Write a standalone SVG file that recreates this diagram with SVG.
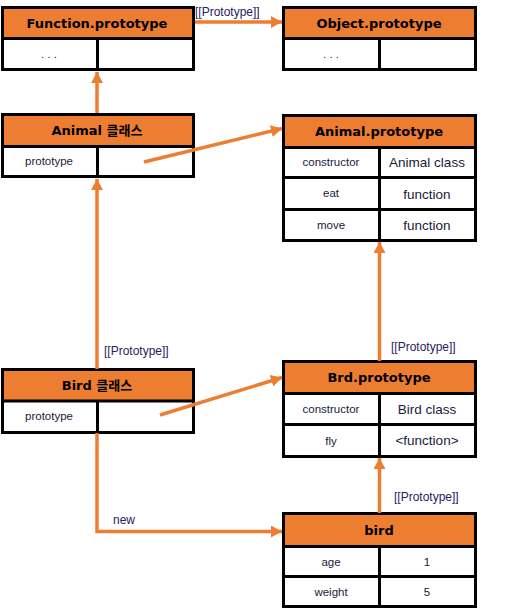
<svg xmlns="http://www.w3.org/2000/svg" width="511" height="609" viewBox="0 0 511 609">
<style>
.box{fill:#fff;stroke:#000;stroke-width:3}
.hd{fill:#ED7D31}
.ln{stroke:#000;stroke-width:3}
.ht{font-family:"DejaVu Sans","Noto Sans CJK KR",sans-serif;font-weight:bold;font-size:13px;fill:#000;text-anchor:middle}
.ct{font-family:"Liberation Sans","Noto Sans CJK KR",sans-serif;font-size:11.5px;fill:#1a1a3a;text-anchor:middle}
.vt{font-family:"Liberation Sans","Noto Sans CJK KR",sans-serif;font-size:13.5px;fill:#1a1a3a;text-anchor:middle}
.lb{font-family:"Liberation Sans",sans-serif;font-size:12px;fill:#2a2060}
.cn{stroke:#ED7D31;stroke-width:3.5;fill:none}
</style>
<defs>
<marker id="ah" markerUnits="userSpaceOnUse" markerWidth="12" markerHeight="12" refX="11" refY="6" orient="auto">
<path d="M0,0 L11,6 L0,12 z" fill="#ED7D31"/>
</marker>
</defs>
<rect width="511" height="609" fill="#fff"/>

<g id="function-prototype">
<rect class="box" x="2.5" y="7.5" width="191" height="62"/>
<rect class="hd" x="4" y="9" width="188" height="28"/>
<line class="ln" x1="2.5" y1="38.5" x2="193.5" y2="38.5"/>
<line class="ln" x1="97.5" y1="38.5" x2="97.5" y2="69.5"/>
<text class="ht" x="97" y="27.5">Function.prototype</text>
<text class="ct" x="49" y="58">. . .</text>
</g>

<g id="object-prototype">
<rect class="box" x="283.5" y="7.5" width="192" height="62"/>
<rect class="hd" x="285" y="9" width="189" height="28"/>
<line class="ln" x1="283.5" y1="38.5" x2="475.5" y2="38.5"/>
<line class="ln" x1="379.5" y1="38.5" x2="379.5" y2="69.5"/>
<text class="ht" x="379" y="27.5">Object.prototype</text>
<text class="ct" x="331" y="58">. . .</text>
</g>

<g id="animal-class">
<rect class="box" x="2.5" y="114.5" width="191" height="62"/>
<rect class="hd" x="4" y="116" width="188" height="29"/>
<line class="ln" x1="2.5" y1="146.5" x2="193.5" y2="146.5"/>
<line class="ln" x1="97.5" y1="146.5" x2="97.5" y2="176.5"/>
<text class="ht" x="97" y="135">Animal 클래스</text>
<text class="ct" x="49" y="165">prototype</text>
</g>

<g id="animal-prototype">
<rect class="box" x="283.5" y="115.5" width="192" height="125"/>
<rect class="hd" x="285" y="117" width="189" height="29"/>
<line class="ln" x1="283.5" y1="147.5" x2="475.5" y2="147.5"/>
<line class="ln" x1="283.5" y1="177.5" x2="475.5" y2="177.5"/>
<line class="ln" x1="283.5" y1="209.5" x2="475.5" y2="209.5"/>
<line class="ln" x1="379.5" y1="147.5" x2="379.5" y2="240.5"/>
<text class="ht" x="379" y="136">Animal.prototype</text>
<text class="ct" x="331" y="166">constructor</text>
<text class="vt" x="427" y="167">Animal class</text>
<text class="ct" x="331" y="197">eat</text>
<text class="vt" x="427" y="198.5">function</text>
<text class="ct" x="331" y="228.5">move</text>
<text class="vt" x="427" y="229.5">function</text>
</g>

<g id="bird-class">
<rect class="box" x="2.5" y="369.5" width="191" height="63"/>
<rect class="hd" x="4" y="371" width="188" height="29"/>
<line class="ln" x1="2.5" y1="401" x2="193.5" y2="401"/>
<line class="ln" x1="97.5" y1="401" x2="97.5" y2="432.5"/>
<text class="ht" x="97" y="390">Bird 클래스</text>
<text class="ct" x="49" y="420">prototype</text>
</g>

<g id="bird-prototype">
<rect class="box" x="283.5" y="361.5" width="192" height="95"/>
<rect class="hd" x="285" y="363" width="189" height="29"/>
<line class="ln" x1="283.5" y1="393.5" x2="475.5" y2="393.5"/>
<line class="ln" x1="283.5" y1="424.5" x2="475.5" y2="424.5"/>
<line class="ln" x1="379.5" y1="393.5" x2="379.5" y2="456.5"/>
<text class="ht" x="379" y="382">Brd.prototype</text>
<text class="ct" x="331" y="413">constructor</text>
<text class="vt" x="427" y="414">Bird class</text>
<text class="ct" x="331" y="444.5">fly</text>
<text class="vt" x="427" y="445">&lt;function&gt;</text>
</g>

<g id="bird">
<rect class="box" x="283.5" y="513.5" width="192" height="93"/>
<rect class="hd" x="285" y="515" width="189" height="30"/>
<line class="ln" x1="283.5" y1="546.5" x2="475.5" y2="546.5"/>
<line class="ln" x1="283.5" y1="576.5" x2="475.5" y2="576.5"/>
<line class="ln" x1="379.5" y1="546.5" x2="379.5" y2="606.5"/>
<text class="ht" x="379" y="535">bird</text>
<text class="ct" x="331" y="565.5">age</text>
<text class="ct" x="427" y="565.5">1</text>
<text class="ct" x="331" y="596">weight</text>
<text class="ct" x="427" y="596">5</text>
</g>

<g id="connectors">
<line class="cn" x1="195" y1="22" x2="282" y2="22" marker-end="url(#ah)"/>
<line class="cn" x1="97" y1="113" x2="97" y2="72" marker-end="url(#ah)"/>
<line class="cn" x1="144" y1="162" x2="282" y2="128.5" marker-end="url(#ah)"/>
<line class="cn" x1="97" y1="369" x2="97" y2="179" marker-end="url(#ah)"/>
<line class="cn" x1="160" y1="415" x2="282" y2="377.5" marker-end="url(#ah)"/>
<line class="cn" x1="379.5" y1="361" x2="379.5" y2="242" marker-end="url(#ah)"/>
<line class="cn" x1="379.5" y1="513" x2="379.5" y2="458" marker-end="url(#ah)"/>
<polyline class="cn" points="97,433 97,531.5 282,531.5" marker-end="url(#ah)"/>
<text class="lb" x="195" y="16">[[Prototype]]</text>
<text class="lb" x="104" y="355">[[Prototype]]</text>
<text class="lb" x="391" y="351">[[Prototype]]</text>
<text class="lb" x="394" y="501">[[Prototype]]</text>
<text class="lb" x="113" y="524">new</text>
</g>
</svg>
